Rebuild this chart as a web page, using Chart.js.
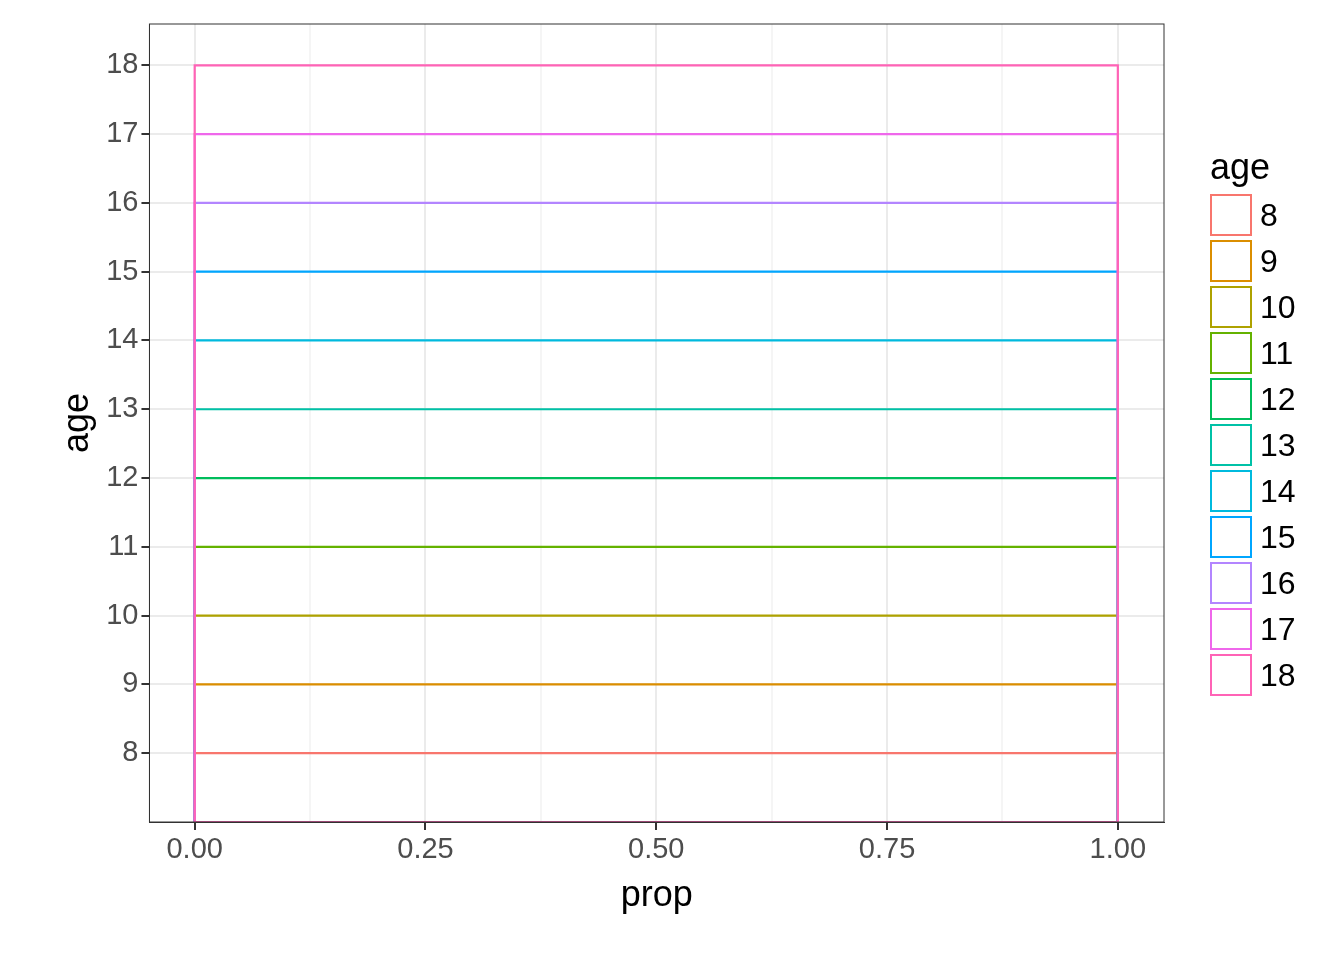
<!DOCTYPE html>
<html><head><meta charset="utf-8">
<script src="https://cdn.jsdelivr.net/npm/chart.js@4/dist/chart.umd.min.js"></script>
<style>
body{margin:0;background:#fff;font-family:"Liberation Sans",Arial,sans-serif}
#wrap{position:relative;width:1344px;height:960px}
#legend{position:absolute;left:1210px;top:146px}
#legend .t{font-size:36px;margin-bottom:4px}
#legend .r{display:flex;align-items:center;height:46px;font-size:32px}
#legend .k{width:42px;height:42px;border:2px solid;margin-right:8px;box-sizing:border-box}
</style></head><body>
<div id="wrap"><canvas id="c" width="1344" height="960"></canvas><div id="legend"></div></div>
<script>
const ages = [8, 9, 10, 11, 12, 13, 14, 15, 16, 17, 18];
const colors = ["#F8766D", "#DB8E00", "#AEA200", "#64B200", "#00BD5C", "#00C1A7",
  "#00BADE", "#00A6FF", "#B385FF", "#EF67EB", "#FF63B6"];
const propStart = 0, propEnd = 1, baseY = 7;
const xTicks = [0, 0.125, 0.25, 0.375, 0.5, 0.625, 0.75, 0.875, 1];

const datasets = ages.map((a, i) => ({
  label: String(a),
  data: [{x: propStart, y: baseY}, {x: propStart, y: a}, {x: propEnd, y: a},
         {x: propEnd, y: baseY}, {x: propStart, y: baseY}],
  showLine: true, borderColor: colors[i], borderWidth: 2.2,
  pointRadius: 0, fill: false, tension: 0,
  order: ages.length - i
}));

const isMajor = v => Math.abs(v * 4 - Math.round(v * 4)) < 1e-6;

new Chart(document.getElementById("c"), {
  type: "scatter",
  data: {datasets},
  options: {
    responsive: false, animation: false,
    layout: {padding: {top: 24, right: 180, bottom: 38, left: 52}},
    plugins: {legend: {display: false}, tooltip: {enabled: false}},
    scales: {
      x: {
        min: -0.049, max: 1.05,
        afterBuildTicks: s => { s.ticks = xTicks.map(v => ({value: v})); },
        ticks: {color: "#4D4D4D", font: {size: 29, family: "Liberation Sans"},
          callback: v => isMajor(v) ? v.toFixed(2) : "", maxRotation: 0, autoSkip: false},
        grid: {color: c => isMajor(c.tick.value) ? "#EBEBEB" : "#F5F5F5", lineWidth: 2,
          tickColor: c => isMajor(c.tick.value) ? "#333" : "rgba(0,0,0,0)", tickLength: 8},
        border: {color: "#333", width: 1},
        title: {display: true, text: "prop", color: "#000", font: {size: 36, family: "Liberation Sans"}}
      },
      y: {
        min: 7.0, max: 18.6,
        afterBuildTicks: s => { s.ticks = ages.map(v => ({value: v})); },
        ticks: {color: "#4D4D4D", font: {size: 29, family: "Liberation Sans"}},
        grid: {color: "#EBEBEB", lineWidth: 2, tickColor: "#333", tickLength: 8},
        border: {color: "#333", width: 1},
        title: {display: true, text: "age", color: "#000", font: {size: 36, family: "Liberation Sans"}}
      }
    }
  },
  plugins: [{
    id: "frame",
    afterDraw(ch) {
      const a = ch.chartArea, g = ch.ctx;
      g.save(); g.strokeStyle = "#333"; g.lineWidth = 1;
      g.strokeRect(a.left, a.top, a.right - a.left, a.bottom - a.top); g.restore();
    }
  }]
});

const lg = document.getElementById("legend");
lg.innerHTML = '<div class="t">age</div>' + ages.map((a, i) =>
  `<div class="r"><div class="k" style="border-color:${colors[i]}"></div>${a}</div>`).join("");
</script>
</body></html>
